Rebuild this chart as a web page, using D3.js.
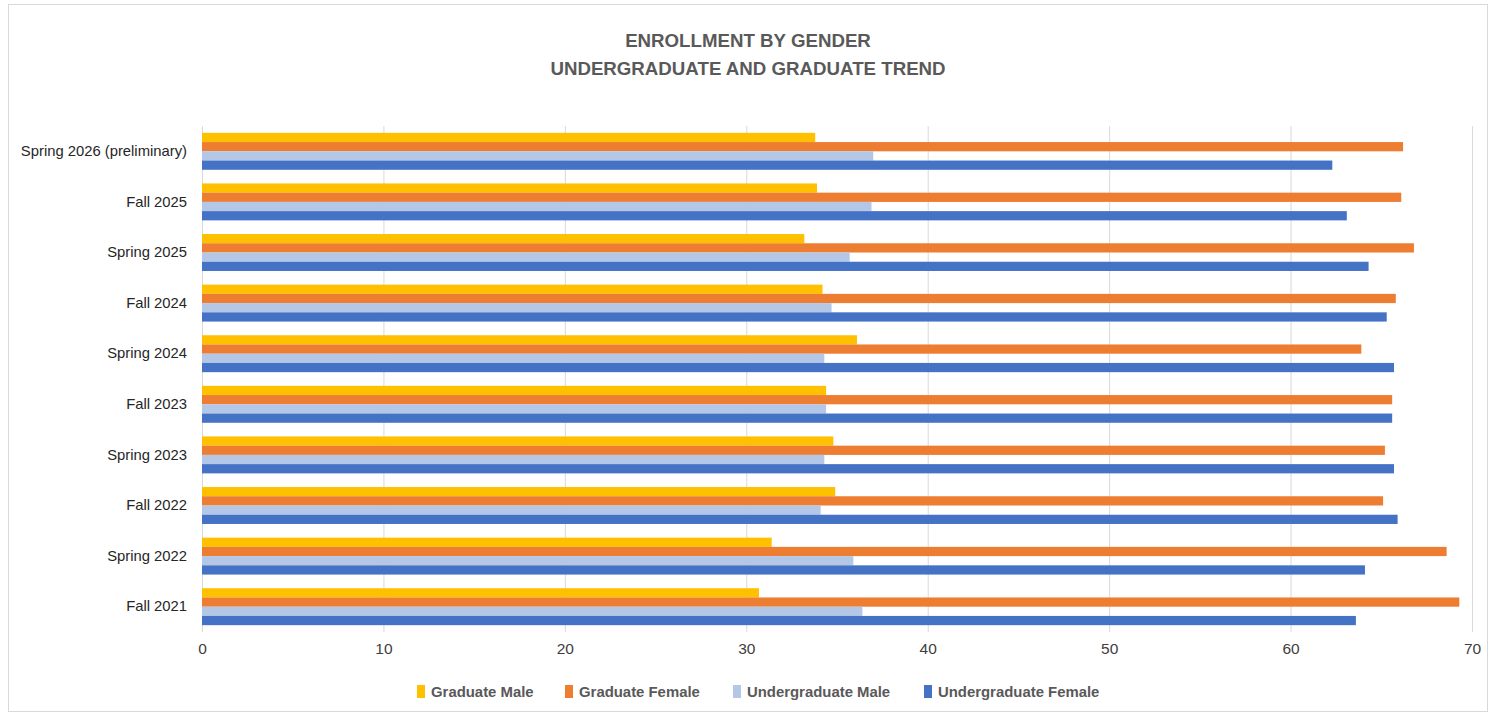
<!DOCTYPE html>
<html><head><meta charset="utf-8">
<script src="https://cdn.jsdelivr.net/npm/d3@7"></script>
<style>body{margin:0;background:#fff;}svg{display:block;font-family:"Liberation Sans",Arial,sans-serif;}</style>
</head><body><svg id="c" width="1493" height="715"></svg>
<script>
const categories = ["Spring 2026 (preliminary)","Fall 2025","Spring 2025","Fall 2024","Spring 2024","Fall 2023","Spring 2023","Fall 2022","Spring 2022","Fall 2021"];
const seriesNames = ["Graduate Male","Graduate Female","Undergraduate Male","Undergraduate Female"];
const colors = ["#FFC000","#ED7D31","#B4C7E7","#4472C4"];
const gradMale   = [33.8,33.9,33.2,34.2,36.1,34.4,34.8,34.9,31.4,30.7];
const gradFemale = [66.2,66.1,66.8,65.8,63.9,65.6,65.2,65.1,68.6,69.3];
const ugMale     = [37.0,36.9,35.7,34.7,34.3,34.4,34.3,34.1,35.9,36.4];
const ugFemale   = [62.3,63.1,64.3,65.3,65.7,65.6,65.7,65.9,64.1,63.6];
const xTicks = [0,10,20,30,40,50,60,70];
const titleLines = ["ENROLLMENT BY GENDER","UNDERGRADUATE AND GRADUATE TREND"];

const series = [gradMale, gradFemale, ugMale, ugFemale];
const svg = d3.select("#c");
const m = {left:202, right:1472, top:126, bottom:632};

svg.append("rect").attr("x",8.5).attr("y",4.5).attr("width",1479).attr("height",707)
  .attr("fill","#fff").attr("stroke","#d9d9d9");

const x = d3.scaleLinear().domain([0,70]).range([m.left, m.right]);
const y0 = d3.scaleBand().domain(categories).range([m.top, m.bottom]).paddingInner(0.27).paddingOuter(0.135);
const y1 = d3.scaleBand().domain(d3.range(4)).range([0, y0.bandwidth()]);

// gridlines + tick labels
const xAxis = d3.axisBottom(x).tickValues(xTicks).tickSize(-(m.bottom-m.top)).tickFormat(d=>d);
const gx = svg.append("g").attr("transform",`translate(0,${m.bottom})`).call(xAxis);
gx.select(".domain").remove();
gx.selectAll(".tick line").attr("stroke","#d9d9d9").attr("stroke-width",1);
gx.selectAll(".tick text").attr("fill","#404040").attr("font-size",15.5).attr("y",0).attr("dy","1.45em");

// bars
const groups = svg.append("g").selectAll("g").data(categories).join("g")
  .attr("transform",d=>`translate(0,${y0(d)})`);
groups.selectAll("rect").data((d,i)=>series.map((s,k)=>({k, v:s[i]}))).join("rect")
  .attr("x",x(0)).attr("y",d=>y1(d.k)).attr("height",y1.bandwidth())
  .attr("width",d=>x(d.v)-x(0)).attr("fill",d=>colors[d.k]);

// category labels
const yAxis = d3.axisLeft(y0).tickSize(0).tickPadding(15);
const gy = svg.append("g").attr("transform",`translate(${m.left},0)`).call(yAxis);
gy.select(".domain").remove();
gy.selectAll(".tick text").attr("fill","#262626").attr("font-size",14.8).attr("font-family","Liberation Sans, Arial, sans-serif");

// title
svg.append("g").selectAll("text").data(titleLines).join("text")
  .attr("x",748).attr("y",(d,i)=>47+i*28).attr("text-anchor","middle")
  .attr("font-size",18.7).attr("font-weight","bold").attr("fill","#595959").text(d=>d);

// legend
const legX = [417,565,733,924];
const lg = svg.append("g").selectAll("g").data(seriesNames).join("g")
  .attr("transform",(d,i)=>`translate(${legX[i]},685)`);
lg.append("rect").attr("width",8).attr("height",13).attr("y",0).attr("fill",(d,i)=>colors[i]);
lg.append("text").attr("x",14).attr("y",12).attr("font-size",14.9).attr("font-weight","bold")
  .attr("fill","#595959").text(d=>d);
</script></body></html>
